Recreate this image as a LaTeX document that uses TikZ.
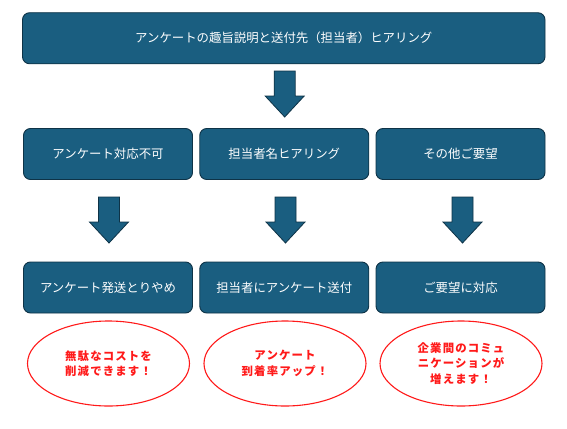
\documentclass[tikz,border=0pt]{standalone}
\usepackage{fontspec}
\setmainfont{Noto Sans CJK JP}
\newfontfamily\jpbold[LetterSpace=10]{Noto Sans CJK JP}
\usetikzlibrary{shapes.geometric}
\definecolor{boxfill}{HTML}{1A5E80}
\definecolor{boxline}{HTML}{0E3347}
\definecolor{ovalred}{HTML}{FF1A1A}
\begin{document}
\begin{tikzpicture}[x=1pt,y=-1pt,
  box/.style={draw=boxline, fill=boxfill, rounded corners=7pt, line width=0.9pt,
    text=white, font=\fontsize{12.4}{15}\selectfont, inner sep=0pt, minimum height=51pt},
  col/.style={minimum width=169pt},
  arrowsty/.style={draw=boxline, fill=boxfill, line width=0.8pt, line join=miter},
  downarrow/.pic={\path[arrowsty] (-10.5,0) -- (10.5,0) -- (10.5,25) -- (19.5,25)
     -- (0,46) -- (-19.5,25) -- (-10.5,25) -- cycle;},
  oval/.style={ellipse, draw=ovalred, line width=1.1pt, fill=white,
    minimum width=162pt, minimum height=85pt, inner sep=0pt, align=center,
    text=ovalred, font=\jpbold\bfseries\fontsize{11.4}{15.5}\selectfont}
]
\useasboundingbox (0,0) rectangle (567,428);
\fill[white] (0,0) rectangle (567,428);

\node[box, minimum width=522.5pt] (top) at (283.75,38.25) {アンケートの趣旨説明と送付先（担当者）ヒアリング};

\pic at (284.7,71) {downarrow};

\node[box, col] (b1) at (108,154) {アンケート対応不可};
\node[box, col] (b2) at (284.25,154) {担当者名ヒアリング};
\node[box, col] (b3) at (460.5,154) {その他ご要望};

\pic at (109,197) {downarrow};
\pic at (285.5,197) {downarrow};
\pic at (462.5,197) {downarrow};

\node[box, col] (c1) at (108,287.5) {アンケート発送とりやめ};
\node[box, col] (c2) at (284.25,287.5) {担当者にアンケート送付};
\node[box, col] (c3) at (460.5,287.5) {ご要望に対応};

\node[oval] (o1) at (108.5,363.5) {無駄なコストを\\削減できます！};
\node[oval] (o2) at (285,363.5) {アンケート\\到着率アップ！};
\node[oval] (o3) at (461,363.5) {企業間のコミュ\\ニケーションが\\増えます！};
\end{tikzpicture}
\end{document}
